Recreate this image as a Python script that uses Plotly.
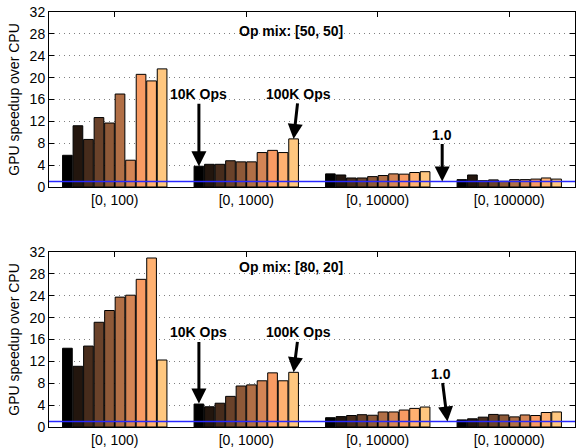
import plotly.graph_objects as go

categories = ["[0, 100)", "[0, 1000)", "[0, 10000)", "[0, 100000)"]

# Op mix [50, 50]: one list per key range, 10 bars each
mix50_r100 = [5.8, 11.2, 8.7, 12.7, 11.7, 17.0, 4.9, 20.6, 19.4, 21.6]
mix50_r1000 = [3.8, 4.15, 4.15, 4.8, 4.6, 4.6, 6.3, 6.7, 6.3, 8.8]
mix50_r10000 = [2.4, 2.2, 1.65, 1.65, 1.9, 2.1, 2.4, 2.35, 2.65, 2.8]
mix50_r100000 = [1.35, 2.2, 1.15, 1.3, 1.05, 1.35, 1.35, 1.45, 1.65, 1.45]

# Op mix [80, 20]
mix80_r100 = [14.4, 11.1, 14.8, 19.15, 21.3, 23.75, 24.1, 27.0, 30.9, 12.25]
mix80_r1000 = [4.2, 3.7, 4.35, 5.6, 7.5, 7.7, 8.45, 9.9, 8.45, 10.0]
mix80_r10000 = [1.7, 1.9, 2.1, 2.25, 2.15, 2.75, 2.75, 3.1, 3.4, 3.65]
mix80_r100000 = [1.3, 1.5, 1.8, 2.3, 2.2, 1.85, 2.2, 2.1, 2.65, 2.75]

panel_top = [mix50_r100, mix50_r1000, mix50_r10000, mix50_r100000]
panel_bot = [mix80_r100, mix80_r1000, mix80_r10000, mix80_r100000]
n_series = 10

FONT = "Liberation Sans, Arial, Helvetica, sans-serif"


def copper(t):
    r = min(1.0, 1.25 * t)
    g = 0.7812 * t
    b = 0.4975 * t
    return "rgb(%d,%d,%d)" % (round(r * 255), round(g * 255), round(b * 255))


fig = go.Figure()
for panel, xa, ya in [(panel_top, "x", "y"), (panel_bot, "x2", "y2")]:
    for i in range(n_series):
        fig.add_trace(go.Bar(
            x=categories,
            y=[grp[i] for grp in panel],
            xaxis=xa, yaxis=ya,
            marker=dict(color=copper(i / (n_series - 1)),
                        line=dict(color="black", width=1)),
            showlegend=False,
            offsetgroup=str(i),
        ))

axis_common = dict(
    showline=True, linecolor="black", linewidth=1, mirror="ticks",
    ticks="inside", ticklen=5, tickcolor="black", automargin=False,
    tickfont=dict(family=FONT, size=14, color="black"),
)

y_common = dict(axis_common, range=[0, 32], tickvals=[0, 4, 8, 12, 16, 20, 24, 28, 32],
                showgrid=True, gridcolor="#808080", griddash="1px,4px", gridwidth=1,
                zeroline=False,
                title=dict(text="GPU speedup over CPU",
                           font=dict(family=FONT, size=14, color="black"),
                           standoff=6))
x_common = dict(axis_common, range=[-0.5, 3.5], showgrid=False, type="category")

fig.update_layout(
    width=576, height=448,
    margin=dict(l=49, r=1, t=12, b=21),
    paper_bgcolor="white", plot_bgcolor="white",
    barmode="group", bargap=0.2, bargroupgap=0.08,
    xaxis=dict(x_common, domain=[0, 1], anchor="y"),
    yaxis=dict(y_common, domain=[0.5783, 1], anchor="x"),
    xaxis2=dict(x_common, domain=[0, 1], anchor="y2"),
    yaxis2=dict(y_common, domain=[0, 0.4217], anchor="x2"),
    font=dict(family=FONT, size=14, color="black"),
)

# reference line at 1.0
for xr, yr in [("x", "y"), ("x2", "y2")]:
    fig.add_shape(type="line", xref=xr + " domain", yref=yr, x0=0, x1=1, y0=1, y1=1,
                  line=dict(color="rgb(40,40,255)", width=1.5), layer="above")

bold = dict(family=FONT, size=14, color="black")
arrow = dict(showarrow=True, arrowhead=2, arrowsize=1, arrowwidth=3, arrowcolor="black")

annotations = [
    dict(x=1.337, y=28.5, xref="x", yref="y", text="<b>Op mix: [50, 50]</b>", showarrow=False, font=bold),
    dict(x=0.64, y=3.8, xref="x", yref="y", text="<b>10K Ops</b>", ax=0, ay=-72, font=bold, **arrow),
    dict(x=1.36, y=8.8, xref="x", yref="y", text="<b>100K Ops</b>", ax=5, ay=-45, font=bold, **arrow),
    dict(x=2.49, y=1.0, xref="x", yref="y", text="<b>1.0</b>", ax=0, ay=-47, font=bold, **arrow),
    dict(x=1.337, y=29.3, xref="x2", yref="y2", text="<b>Op mix: [80, 20]</b>", showarrow=False, font=bold),
    dict(x=0.64, y=4.3, xref="x2", yref="y2", text="<b>10K Ops</b>", ax=0, ay=-71, font=bold, **arrow),
    dict(x=1.36, y=10.0, xref="x2", yref="y2", text="<b>100K Ops</b>", ax=5, ay=-40, font=bold, **arrow),
    dict(x=2.53, y=1.0, xref="x2", yref="y2", text="<b>1.0</b>", ax=-6, ay=-48, font=bold, **arrow),
]
fig.update_layout(annotations=annotations)

fig.write_html("out.html", config={"displayModeBar": False},
               post_script="document.body.style.margin='0';")
